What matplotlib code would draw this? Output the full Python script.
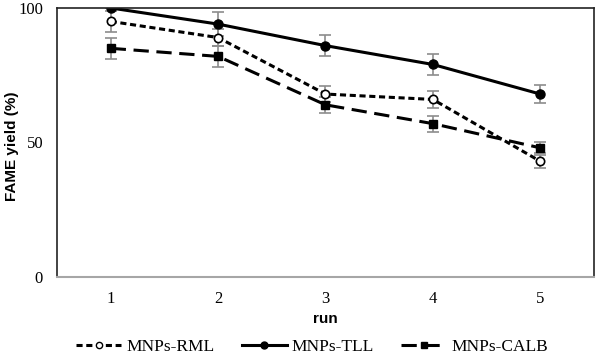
import matplotlib.pyplot as plt
from matplotlib.lines import Line2D

runs = [1, 2, 3, 4, 5]
rml = [95, 89, 68, 66, 43]
rml_err = [4, 3, 3, 3, 2.5]
tll = [100, 94, 86, 79, 68]
tll_err = [0, 4.5, 4, 4, 3.5]
calb = [85, 82, 64, 57, 48]
calb_err = [4, 4, 3, 3, 2]

serif = 'Liberation Serif'
sans = 'Liberation Sans'

fig = plt.figure(figsize=(5.98, 3.54), dpi=100)
ax = fig.add_axes([0.0953, 0.2175, 0.898, 0.760])

err_kw = dict(ecolor='#8c8c8c', elinewidth=1.2, capsize=4, capthick=1.2)
rml_ls = (0, (2, 1.2))
calb_ls = (0, (5, 2.5))

ax.errorbar(runs, rml, yerr=rml_err, color='black', lw=2.2, ls=rml_ls,
            marker='o', ms=6, mfc='white', mec='black', mew=1.2, **err_kw)
ax.errorbar(runs, tll, yerr=tll_err, color='black', lw=2.2, ls='-',
            marker='o', ms=6.5, mfc='black', mec='black', **err_kw)
ax.errorbar(runs, calb, yerr=calb_err, color='black', lw=2.2, ls=calb_ls,
            marker='s', ms=6, mfc='black', mec='black', **err_kw)

ax.set_xlim(0.5, 5.5)
ax.set_ylim(0, 100)
ax.set_xticks(runs)
ax.set_yticks([0, 50, 100])
ax.tick_params(length=0, labelsize=12)
ax.tick_params(axis='y', pad=10)
ax.tick_params(axis='x', pad=10)
for lab in ax.get_xticklabels() + ax.get_yticklabels():
    lab.set_family(serif)

for side in ['left', 'top', 'right']:
    ax.spines[side].set_color('#222222')
    ax.spines[side].set_linewidth(1.2)
ax.spines['bottom'].set_color('#a6a6a6')
ax.spines['bottom'].set_linewidth(1.5)

ax.set_xlabel('run', fontfamily=sans, fontweight='bold', fontsize=11, labelpad=4)
fig.text(12 / 598, 1 - 146 / 354, 'FAME yield (%)', rotation=90, ha='center', va='center',
         fontfamily=sans, fontweight='bold', fontsize=11)

handles = [
    Line2D([], [], color='black', lw=2.2, ls=rml_ls, marker='o', ms=4.5, mfc='white', mec='black'),
    Line2D([], [], color='black', lw=2.2, ls='-', marker='o', ms=5, mfc='black'),
    Line2D([], [], color='black', lw=2.2, ls=calb_ls, marker='s', ms=4.5, mfc='black'),
]
labels = ['MNPs-RML', 'MNPs-TLL', 'MNPs-CALB']
fig.legend(handles, labels, loc='center', bbox_to_anchor=(0.522, 1 - 347 / 354), ncol=3,
           frameon=False, prop={'family': serif, 'size': 12.5}, handlelength=2.6,
           columnspacing=1.55, handletextpad=0.3, borderpad=0)

plt.savefig('out.png', dpi=100)
plt.close()
